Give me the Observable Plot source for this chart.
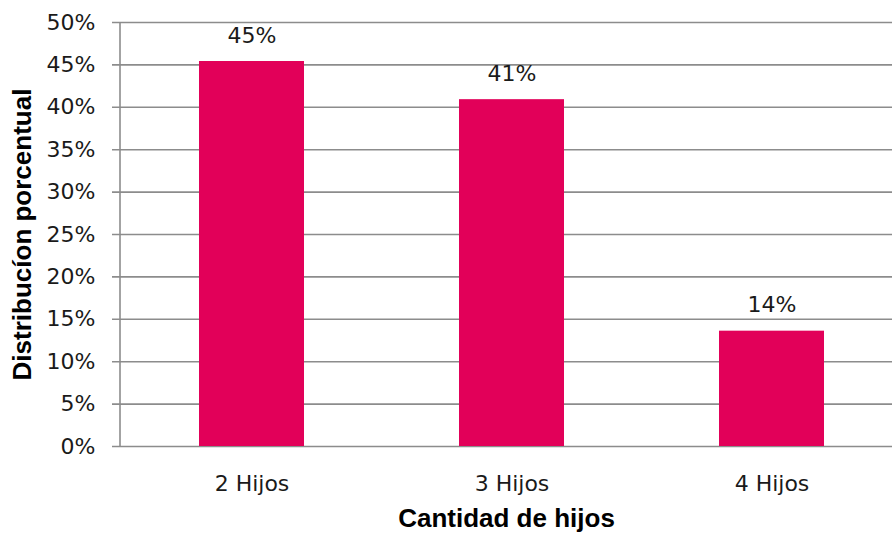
<!DOCTYPE html>
<html>
<head>
<meta charset="utf-8">
<script src="https://cdn.jsdelivr.net/npm/d3@7"></script>
<script src="https://cdn.jsdelivr.net/npm/@observablehq/plot@0.6"></script>
<style>
  body { margin: 0; background: #fff; }
  #chart svg { display: block; }
</style>
</head>
<body>
<div id="chart"></div>
<script>
const categories = ["2 Hijos", "3 Hijos", "4 Hijos"];
const values = [0.454, 0.409, 0.136];
const valueLabels = ["45%", "41%", "14%"];
const yTicks = [0, 0.05, 0.10, 0.15, 0.20, 0.25, 0.30, 0.35, 0.40, 0.45, 0.50];
const xTitle = "Cantidad de hijos";
const yTitle = "Distribucíon porcentual";

const data = categories.map((c, i) => ({cat: c, v: values[i], label: valueLabels[i]}));

const tickFont = "DejaVu Sans";
const titleFont = "Liberation Sans";
const grid = "#8c8c8c";
const ink = "#1a1a1a";

const chart = Plot.plot({
  width: 892,
  height: 538,
  marginLeft: 120,
  marginRight: 0,
  marginTop: 22,
  marginBottom: 92,
  style: {fontFamily: tickFont, fontSize: "22px", background: "#fff"},
  x: {domain: categories, paddingInner: 0.597, paddingOuter: 0.279, align: 0.536, axis: null},
  y: {domain: [0, 0.5], axis: null},
  marks: [
    Plot.ruleY(yTicks, {stroke: grid, strokeWidth: 1.6, insetLeft: -8}),
    Plot.axisY(yTicks, {
      label: null, tickSize: 0, tickPadding: 25, fill: ink, fontSize: 22,
      tickFormat: d => Math.round(d * 100) + "%"
    }),
    Plot.axisX({label: null, tickSize: 0, tickPadding: 29, fill: ink, fontSize: 22}),
    Plot.barY(data, {x: "cat", y: "v", fill: "#E20059"}),
    Plot.text(data, {x: "cat", y: "v", text: "label", dy: -26, fill: ink, fontSize: 22, fontFamily: tickFont}),
    Plot.text([xTitle], {frameAnchor: "bottom", dy: 80, fontWeight: "bold", fontSize: 26, fontFamily: titleFont, fill: "#000"}),
    Plot.text([yTitle], {frameAnchor: "left", dx: -98, rotate: -90, textAnchor: "middle", fontWeight: "bold", fontSize: 26, fontFamily: titleFont, fill: "#000"})
  ]
});

// vertical axis line drawn from the library's own scale ranges
const xr = chart.scale("x").range;
const yr = chart.scale("y").range;
d3.select(chart).append("line")
  .attr("x1", xr[0]).attr("x2", xr[0])
  .attr("y1", yr[0]).attr("y2", yr[1])
  .attr("stroke", grid).attr("stroke-width", 1.6);

document.getElementById("chart").appendChild(chart);
</script>
</body>
</html>
